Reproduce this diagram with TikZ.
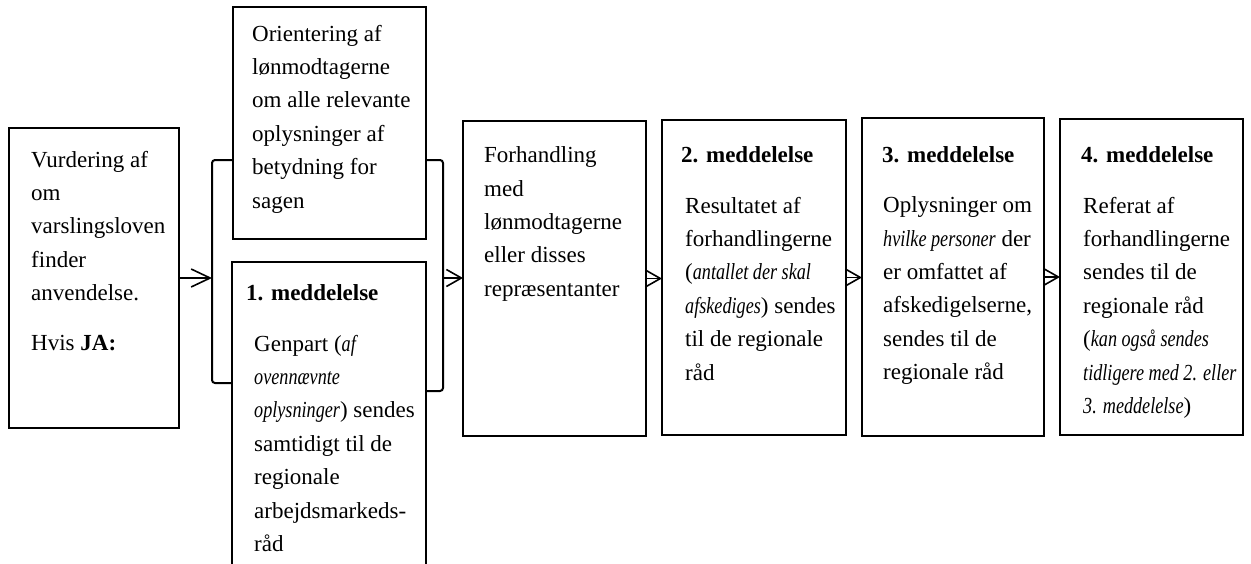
\documentclass[tikz,border=0pt]{standalone}
\usepackage{fontspec}
\setmainfont{Liberation Serif}[ItalicFeatures={FakeStretch=0.79}]
\usetikzlibrary{arrows.meta}
\begin{document}
\begin{tikzpicture}[x=1pt,y=-1pt,
  box/.style={draw,line width=2.4pt,inner sep=0pt,outer sep=0pt,anchor=north west},
  tbase/.style={anchor=north west,inner sep=0pt,align=left,
    font=\fontsize{23}{33.4}\selectfont,execute at begin node={\rule{0pt}{23.38pt}}},
  txt/.style={tbase,yshift=23.38pt},
  mtxt/.style={tbase,yshift=15.38pt},
  brk/.style={line width=2pt,rounded corners=3pt},
  arrA/.style={line width=1.6pt,-{Straight Barb[length=19pt,width=18pt]}},
  arrB/.style={line width=1.6pt,-{Straight Barb[length=15pt,width=17pt]}}]
\useasboundingbox (0,0) rectangle (1251,563);

% boxes
\node[box,minimum width=170pt,minimum height=300pt] (A) at (9,128) {};
\node[box,minimum width=193pt,minimum height=232pt] (B) at (233,7) {};
\node[box,minimum width=194pt,minimum height=312pt] (C) at (232,262) {};
\node[box,minimum width=183pt,minimum height=315pt] (D) at (463,121) {};
\node[box,minimum width=184pt,minimum height=315pt] (E) at (662,120) {};
\node[box,minimum width=182pt,minimum height=318pt] (F) at (862,118) {};
\node[box,minimum width=183pt,minimum height=316pt] (G) at (1060,119) {};

% texts
\node[mtxt] (At) at (31,166) {Vurdering af\\om\\varslingsloven\\finder\\anvendelse.\\[16pt]Hvis \textbf{JA:}};
\node[mtxt] (Bt) at (252,40) {Orientering af\\lønmodtagerne\\om alle relevante\\oplysninger af\\betydning for\\sagen};
\node[txt] (Ch) at (246,300) {\textbf{1. meddelelse}};
\node[mtxt] (Ct) at (254,350) {Genpart (\textit{af}\\\textit{ovennævnte}\\\textit{oplysninger}) sendes\\samtidigt til de\\regionale\\arbejdsmarkeds-\\råd};
\node[mtxt] (Dt) at (484,162) {Forhandling\\med\\lønmodtagerne\\eller disses\\repræsentanter};
\node[txt] (Eh) at (681,162) {\textbf{2. meddelelse}};
\node[mtxt] (Et) at (685,212) {Resultatet af\\forhandlingerne\\(\textit{antallet der skal}\\\textit{afskediges}) sendes\\til de regionale\\råd};
\node[txt] (Fh) at (882,162) {\textbf{3. meddelelse}};
\node[mtxt] (Ft) at (883,212) {Oplysninger om\\\textit{hvilke personer} der\\er omfattet af\\afskedigelserne,\\sendes til de\\regionale råd};
\node[txt] (Gh) at (1081,162) {\textbf{4. meddelelse}};
\node[mtxt] (Gt) at (1083,212) {Referat af\\forhandlingerne\\sendes til de\\regionale råd\\(\textit{kan også sendes}\\\textit{tidligere med 2. eller}\\\textit{3. meddelelse})};

% brackets
\coordinate (bl1) at (212,160);
\coordinate (bl2) at (212,383);
\coordinate (br1) at (443,160);
\coordinate (br2) at (443,391);
\draw[brk] (B.west |- bl1) -- (bl1) -- (bl2) -- (C.west |- bl2);
\draw[brk] (B.east |- br1) -- (br1) -- (br2) -- (C.east |- br2);

% arrows
\coordinate (brL) at (212,278);
\coordinate (brR) at (443,278);
\draw[arrA] (A.east) -- (brL);
\draw[arrB] (brR) -- (D.west |- brR);
\draw[arrB] (D.east) -- (D.east -| E.west);
\draw[arrB] (E.east) -- (E.east -| F.west);
\draw[arrB] (F.east) -- (F.east -| G.west);
\end{tikzpicture}
\end{document}
